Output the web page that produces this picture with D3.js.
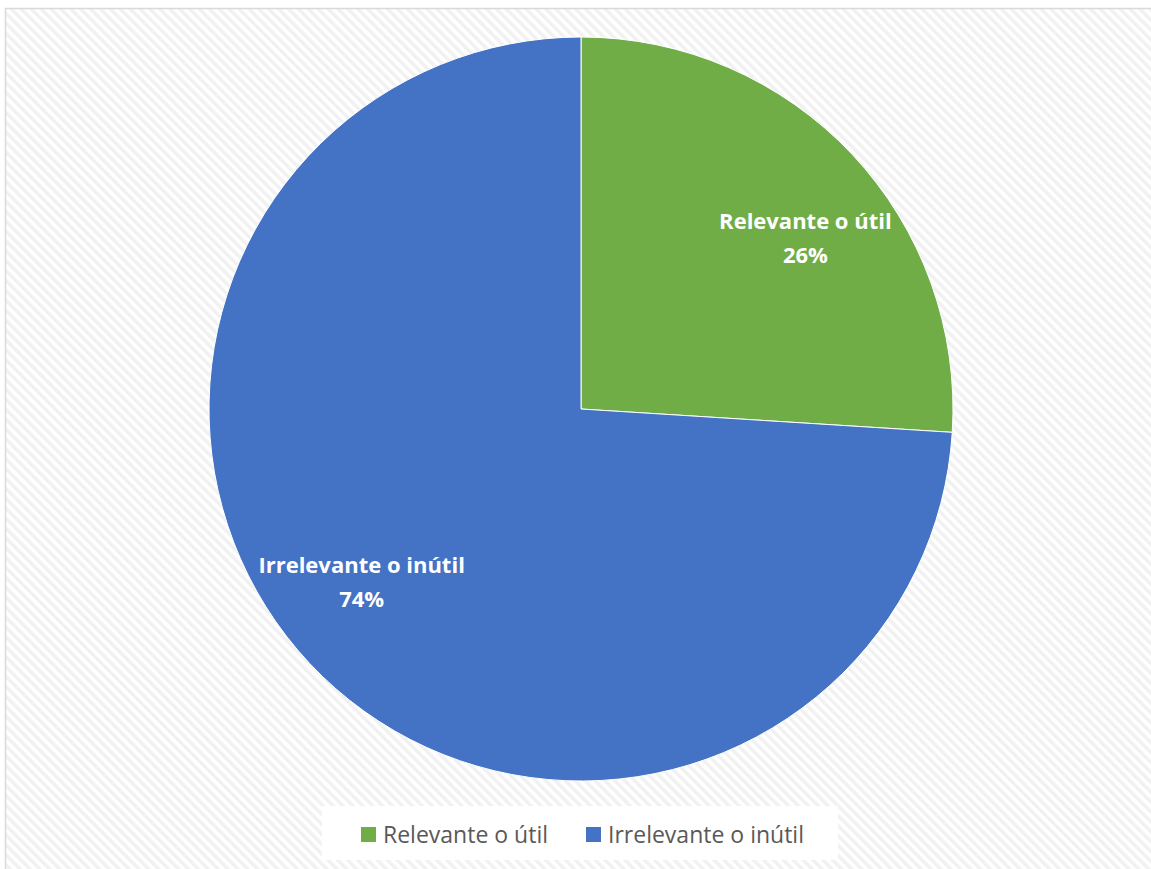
<!DOCTYPE html>
<html>
<head>
<meta charset="utf-8">
<script src="https://cdn.jsdelivr.net/npm/d3@7"></script>
<style>
  html, body { margin: 0; padding: 0; background: #ffffff; }
  svg { display: block; }
</style>
</head>
<body>
<svg id="chart" width="1151" height="869"></svg>
<script>
// Survey answers: share of responses per category
const categories = ["Relevante o útil", "Irrelevante o inútil"];
const values = [26, 74];
const labels = ["26%", "74%"];
const colors = ["#70ad47", "#4472c4"];

const W = 1151, H = 869;
const svg = d3.select("#chart");
const defs = svg.append("defs");

// Diagonal light-grey stripes on the chart area
const pat = defs.append("pattern")
  .attr("id", "stripes")
  .attr("patternUnits", "userSpaceOnUse")
  .attr("width", 7).attr("height", 7)
  .attr("patternTransform", "rotate(-45)");
pat.append("rect").attr("width", 7).attr("height", 7).attr("fill", "#ffffff");
pat.append("rect").attr("width", 3.5).attr("height", 7).attr("fill", "#f1f1f1");

svg.append("rect")
  .attr("x", 5.5).attr("y", 8.5)
  .attr("width", W).attr("height", H)
  .attr("fill", "url(#stripes)")
  .attr("stroke", "#d9d9d9").attr("stroke-width", 1.5);

// Pie
const cx = 581, cy = 409, r = 372;
const pie = d3.pie().sort(null).value(d => d.value);
const data = pie(categories.map((c, i) => ({ name: c, value: values[i], label: labels[i], color: colors[i] })));
const arc = d3.arc().innerRadius(0).outerRadius(r);
const labelArc = d3.arc().innerRadius(r * 0.75).outerRadius(r * 0.75);
// best-fit nudges of the data labels away from the plain centroid
const labelNudge = [[21, 28], [-16, -10]];

const g = svg.append("g").attr("transform", `translate(${cx},${cy})`);
g.selectAll("path.slice")
  .data(data)
  .join("path")
  .attr("class", "slice")
  .attr("d", arc)
  .attr("fill", d => d.data.color)
  .attr("stroke", "#ffffff")
  .attr("stroke-width", 1);

const font = "'Open Sans', sans-serif";
const lbl = g.selectAll("text.lbl")
  .data(data)
  .join("text")
  .attr("class", "lbl")
  .attr("transform", (d, i) => {
    const [x, y] = labelArc.centroid(d);
    return `translate(${x + labelNudge[i][0]},${y + labelNudge[i][1]})`;
  })
  .attr("text-anchor", "middle")
  .attr("fill", "#ffffff")
  .attr("font-family", font)
  .attr("font-weight", "bold")
  .attr("font-size", 22);
lbl.append("tspan").attr("x", 0).attr("y", -17).text(d => d.data.name);
lbl.append("tspan").attr("x", 0).attr("y", 17).text(d => d.data.label);

// Legend
const legend = svg.append("g");
legend.append("rect")
  .attr("x", 322).attr("y", 806).attr("width", 516).attr("height", 54)
  .attr("fill", "#ffffff");
const items = [
  { x: 361, name: categories[0], color: colors[0] },
  { x: 586, name: categories[1], color: colors[1] }
];
const li = legend.selectAll("g.item").data(items).join("g").attr("class", "item")
  .attr("transform", d => `translate(${d.x},827)`);
li.append("rect").attr("width", 15).attr("height", 15).attr("fill", d => d.color);
li.append("text")
  .attr("x", 22).attr("y", 15.5)
  .attr("fill", "#595959")
  .attr("font-family", font)
  .attr("font-size", 23)
  .text(d => d.name);
</script>
</body>
</html>
